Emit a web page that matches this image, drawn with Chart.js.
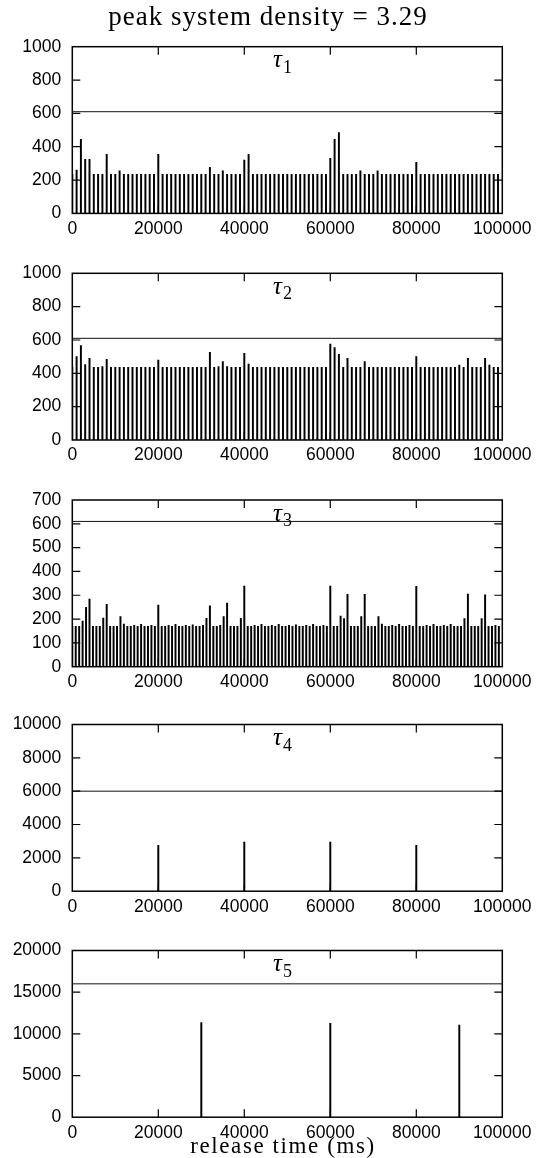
<!DOCTYPE html>
<html>
<head>
<meta charset="utf-8">
<script src="https://cdn.jsdelivr.net/npm/chart.js@4.4.1/dist/chart.umd.min.js"></script>
<style>
  html, body { margin: 0; padding: 0; background: #fff; }
  #fig { position: relative; width: 539px; height: 1158px; overflow: hidden; }
  #fig canvas { position: absolute; left: 0; }
</style>
</head>
<body>
<div id="fig"></div>
<script>
// text
const figTitle = 'peak system density = 3.29';
const xTitle = 'release time (ms)';
const taskSubs = ['1', '2', '3', '4', '5'];

// axes: y range + step per panel, x ticks shared
const yMax = [1000, 1000, 700, 10000, 20000];
const yStep = [200, 200, 100, 2000, 5000];
const xMax = 100000;
const xStep = 20000;

// deadline line per task (ms)
const deadlines = [610, 610, 610, 6000, 16000];

// release times (ms)
const releaseT12 = [
  0, 1000, 2000, 3000, 4000, 5000, 6000, 7000, 8000, 9000,
  10000, 11000, 12000, 13000, 14000, 15000, 16000, 17000, 18000, 19000,
  20000, 21000, 22000, 23000, 24000, 25000, 26000, 27000, 28000, 29000,
  30000, 31000, 32000, 33000, 34000, 35000, 36000, 37000, 38000, 39000,
  40000, 41000, 42000, 43000, 44000, 45000, 46000, 47000, 48000, 49000,
  50000, 51000, 52000, 53000, 54000, 55000, 56000, 57000, 58000, 59000,
  60000, 61000, 62000, 63000, 64000, 65000, 66000, 67000, 68000, 69000,
  70000, 71000, 72000, 73000, 74000, 75000, 76000, 77000, 78000, 79000,
  80000, 81000, 82000, 83000, 84000, 85000, 86000, 87000, 88000, 89000,
  90000, 91000, 92000, 93000, 94000, 95000, 96000, 97000, 98000, 99000
];
const releaseT3 = [
  0, 800, 1600, 2400, 3200, 4000, 4800, 5600, 6400, 7200,
  8000, 8800, 9600, 10400, 11200, 12000, 12800, 13600, 14400, 15200,
  16000, 16800, 17600, 18400, 19200, 20000, 20800, 21600, 22400, 23200,
  24000, 24800, 25600, 26400, 27200, 28000, 28800, 29600, 30400, 31200,
  32000, 32800, 33600, 34400, 35200, 36000, 36800, 37600, 38400, 39200,
  40000, 40800, 41600, 42400, 43200, 44000, 44800, 45600, 46400, 47200,
  48000, 48800, 49600, 50400, 51200, 52000, 52800, 53600, 54400, 55200,
  56000, 56800, 57600, 58400, 59200, 60000, 60800, 61600, 62400, 63200,
  64000, 64800, 65600, 66400, 67200, 68000, 68800, 69600, 70400, 71200,
  72000, 72800, 73600, 74400, 75200, 76000, 76800, 77600, 78400, 79200,
  80000, 80800, 81600, 82400, 83200, 84000, 84800, 85600, 86400, 87200,
  88000, 88800, 89600, 90400, 91200, 92000, 92800, 93600, 94400, 95200,
  96000, 96800, 97600, 98400, 99200
];
const releaseT4 = [20000, 40000, 60000, 80000];
const releaseT5 = [30000, 60000, 90000];

// response times (ms)
const respT1 = [
  235, 260, 445, 325, 325, 235, 235, 235, 354, 235,
  235, 256, 235, 235, 235, 235, 235, 235, 235, 235,
  354, 235, 235, 235, 235, 235, 235, 235, 235, 235,
  235, 235, 276, 235, 235, 256, 235, 235, 235, 235,
  320, 354, 235, 235, 235, 235, 235, 235, 235, 235,
  235, 235, 235, 235, 235, 235, 235, 235, 235, 235,
  330, 445, 485, 235, 235, 235, 235, 256, 235, 235,
  235, 256, 235, 235, 235, 235, 235, 235, 235, 235,
  306, 235, 235, 235, 235, 235, 235, 235, 235, 235,
  235, 235, 235, 235, 235, 235, 235, 235, 235, 235
];
const respT2 = [
  436, 500, 566, 452, 490, 436, 436, 441, 484, 436,
  436, 436, 436, 436, 436, 436, 436, 436, 436, 436,
  480, 436, 436, 436, 436, 436, 436, 436, 436, 436,
  436, 436, 526, 436, 440, 470, 440, 436, 436, 436,
  520, 456, 436, 436, 436, 436, 436, 436, 436, 436,
  436, 436, 436, 436, 436, 436, 436, 436, 436, 436,
  576, 554, 514, 436, 490, 436, 436, 436, 470, 436,
  436, 436, 436, 436, 436, 436, 436, 436, 436, 436,
  500, 436, 436, 436, 436, 436, 436, 436, 436, 436,
  450, 436, 490, 436, 436, 436, 490, 450, 436, 436
];
const respT3 = [
  170, 170, 170, 192, 249, 284, 170, 170, 170, 204,
  262, 170, 170, 170, 210, 179, 170, 170, 174, 170,
  178, 170, 170, 174, 170, 259, 170, 170, 174, 170,
  178, 170, 170, 174, 170, 176, 170, 170, 174, 203,
  256, 170, 170, 174, 210, 267, 170, 170, 170, 203,
  339, 170, 170, 174, 170, 178, 170, 170, 174, 170,
  178, 170, 170, 174, 170, 176, 170, 170, 174, 170,
  178, 170, 170, 174, 170, 339, 170, 170, 213, 202,
  304, 170, 170, 170, 210, 304, 170, 170, 170, 210,
  179, 170, 170, 174, 170, 178, 170, 170, 174, 170,
  338, 170, 170, 174, 170, 178, 170, 170, 174, 170,
  178, 170, 170, 170, 202, 305, 170, 170, 170, 202,
  302, 170, 170, 174, 170
];
const respT4 = [2750, 2950, 2950, 2750];
const respT5 = [11350, 11250, 11050];

const releases = [releaseT12, releaseT12, releaseT3, releaseT4, releaseT5];
const responses = [respT1, respT2, respT3, respT4, respT5];

// layout (px)
const PLOT_L = 72.3, PLOT_R = 502.3;
const PANEL_TOPS = [46.7, 273.3, 500, 724.5, 950.5];
const PANEL_H = 166.7;
const TICK = 8;
const TAU_X = 273;

Chart.defaults.font.family = 'Liberation Sans';
Chart.defaults.color = '#000';

// box + inward ticks on all sides, task label, figure title / x label
const frame = {
  id: 'frame',
  afterDraw(chart, args, opts) {
    const { ctx, chartArea: a, scales: { x, y } } = chart;
    ctx.save();
    ctx.strokeStyle = '#000';
    ctx.lineWidth = 1.2;
    ctx.beginPath();
    x.ticks.forEach(t => {
      if (t.value <= x.min || t.value >= x.max) return;
      const px = x.getPixelForValue(t.value);
      ctx.moveTo(px, a.bottom); ctx.lineTo(px, a.bottom - TICK);
      ctx.moveTo(px, a.top); ctx.lineTo(px, a.top + TICK);
    });
    y.ticks.forEach(t => {
      if (t.value <= y.min || t.value >= y.max) return;
      const py = y.getPixelForValue(t.value);
      ctx.moveTo(a.left, py); ctx.lineTo(a.left + TICK, py);
      ctx.moveTo(a.right, py); ctx.lineTo(a.right - TICK, py);
    });
    ctx.stroke();
    ctx.lineWidth = 1.5;
    ctx.strokeRect(a.left, a.top, a.right - a.left, a.bottom - a.top);

    ctx.fillStyle = '#000';
    ctx.textBaseline = 'alphabetic';
    ctx.textAlign = 'left';
    ctx.font = 'italic 25px "Liberation Serif"';
    ctx.fillText('τ', TAU_X, a.top + 20.6);
    const w = ctx.measureText('τ').width;
    ctx.font = '18px "Liberation Serif"';
    ctx.fillText(opts.sub, TAU_X + w + 1, a.top + 26);

    ctx.textAlign = 'center';
    if (opts.title) {
      ctx.font = '27px "Liberation Serif"';
      ctx.letterSpacing = '1px';
      ctx.fillText(opts.title, 268, 25);
    }
    if (opts.xlabel) {
      ctx.font = '23px "Liberation Serif"';
      ctx.letterSpacing = '1.6px';
      ctx.fillText(opts.xlabel, 283, chart.height - 5);
    }
    ctx.restore();
  }
};

const fig = document.getElementById('fig');

releases.forEach((rel, i) => {
  const last = i === releases.length - 1;
  const top = PANEL_TOPS[i];
  const canvasTop = i === 0 ? 0 : Math.round(top) - 24;
  const H = last ? 1158 - canvasTop : Math.round(top + PANEL_H + 36) - canvasTop;
  const padTop = top - canvasTop;
  const xAxisH = H - padTop - PANEL_H;

  const cv = document.createElement('canvas');
  cv.width = 539; cv.height = H;
  cv.style.top = canvasTop + 'px';
  cv.style.width = '539px'; cv.style.height = H + 'px';
  fig.appendChild(cv);

  new Chart(cv, {
    type: 'bar',
    data: {
      datasets: [
        {
          type: 'bar',
          data: rel.map((t, j) => ({ x: t, y: responses[i][j] })),
          backgroundColor: '#000',
          borderWidth: 0,
          barThickness: 1.3,
          order: 2
        },
        {
          type: 'line',
          data: [{ x: 0, y: deadlines[i] }, { x: xMax, y: deadlines[i] }],
          borderColor: '#111',
          borderWidth: 1,
          pointRadius: 0,
          fill: false,
          order: 1
        }
      ]
    },
    options: {
      responsive: false,
      animation: false,
      layout: { padding: { top: padTop, right: 539 - PLOT_R, left: 0, bottom: 0 } },
      plugins: {
        legend: { display: false },
        tooltip: { enabled: false },
        frame: {
          sub: taskSubs[i],
          title: i === 0 ? figTitle : null,
          xlabel: last ? xTitle : null
        }
      },
      scales: {
        x: {
          type: 'linear', min: 0, max: xMax, offset: false,
          grid: { display: false, drawTicks: false },
          border: { display: false },
          ticks: {
            stepSize: xStep, padding: 5, maxRotation: 0, autoSkip: false,
            font: { size: 17.5 }, callback: v => String(v)
          },
          afterFit: s => { s.height = xAxisH; }
        },
        y: {
          min: 0, max: yMax[i],
          grid: { display: false, drawTicks: false },
          border: { display: false },
          ticks: {
            stepSize: yStep[i], padding: 11, autoSkip: false,
            font: { size: 17.5 }, callback: v => String(v)
          },
          afterFit: s => { s.width = PLOT_L; }
        }
      }
    },
    plugins: [frame]
  });
});
</script>
</body>
</html>
